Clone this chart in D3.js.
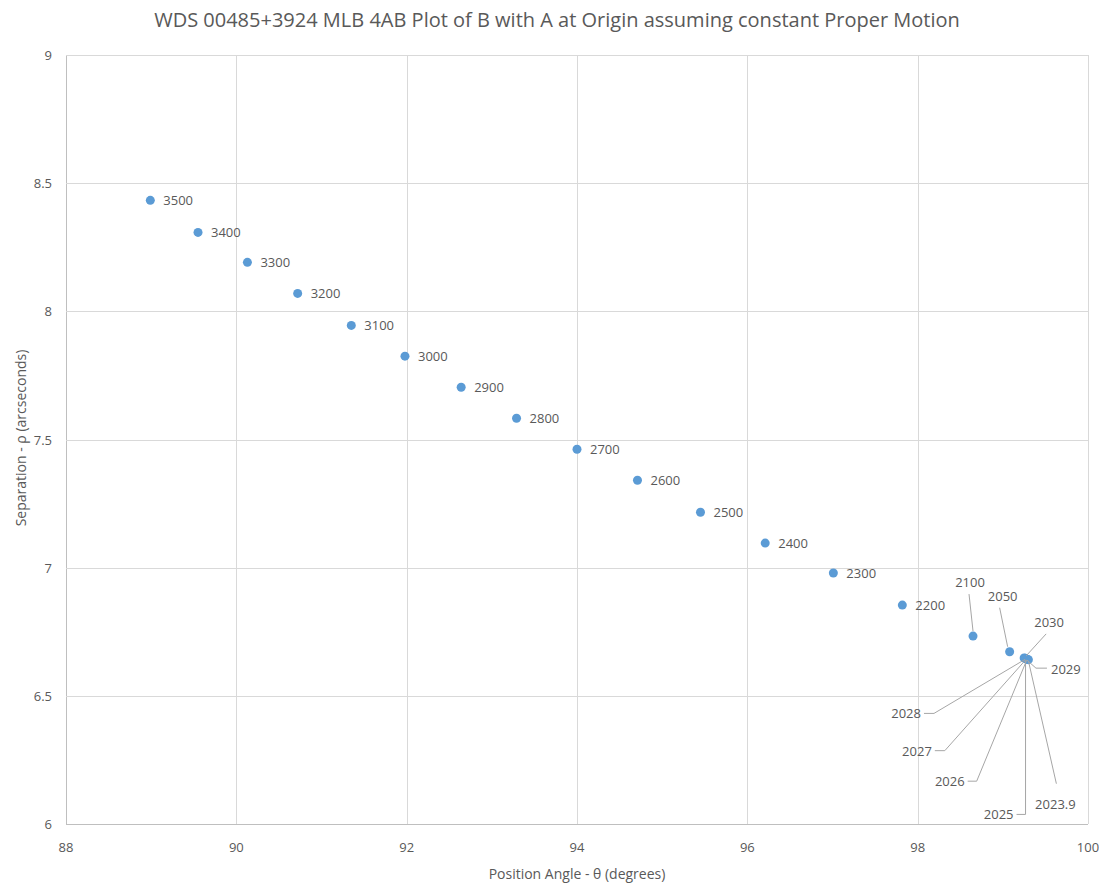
<!DOCTYPE html>
<html>
<head>
<meta charset="utf-8">
<script src="https://cdn.jsdelivr.net/npm/d3@7"></script>
<style>
  html, body { margin: 0; padding: 0; background: #ffffff; }
  svg { display: block; font-family: "Open Sans", "Noto Sans", sans-serif; }
</style>
</head>
<body>
<svg id="chart" width="1099" height="884"></svg>
<script>
// ---- data ----
const years = ["3500","3400","3300","3200","3100","3000","2900","2800","2700","2600","2500","2400","2300","2200","2100","2050","2030","2029","2028","2027","2026","2025","2023.9"];
const positionAngle = [88.99,89.55,90.13,90.72,91.35,91.98,92.64,93.29,94.00,94.71,95.45,96.21,97.01,97.82,98.65,99.08,99.25,99.26,99.26,99.27,99.28,99.29,99.30];
const separation    = [8.433,8.308,8.191,8.070,7.945,7.825,7.704,7.583,7.462,7.341,7.216,7.096,6.979,6.854,6.733,6.672,6.648,6.647,6.646,6.645,6.643,6.642,6.641];
const xTicks = [88,90,92,94,96,98,100];
const yTicks = [6,6.5,7,7.5,8,8.5,9];
const titleText = "WDS 00485+3924 MLB 4AB Plot of B with A at Origin assuming constant Proper Motion";
const xTitle = "Position Angle - \u03b8 (degrees)";
const yTitle = "Separation - \u03c1 (arcseconds)";

// ---- label placement (pixel offsets from the point; style only) ----
const labelPlacement = {
  "2100":   {tx:-3,  ty:-54, anchor:"middle", leader:[[-4,-42],[0,-5]]},
  "2050":   {tx:-7,  ty:-56, anchor:"middle", leader:[[-10,-44],[-2,-5]]},
  "2030":   {tx:25,  ty:-36, anchor:"middle", leader:[[22,-24],[2,-2]]},
  "2029":   {tx:26,  ty:11,  anchor:"start",  leader:[[22,10],[11,10],[2,2]]},
  "2028":   {tx:-104,ty:55,  anchor:"end",    leader:[[-101,55],[-91,55],[0,1]]},
  "2027":   {tx:-94, ty:92,  anchor:"end",    leader:[[-91,92],[-81,92],[0,1]]},
  "2026":   {tx:-62, ty:122, anchor:"end",    leader:[[-59,122],[-50,122],[0,1]]},
  "2025":   {tx:-14, ty:155, anchor:"end",    leader:[[-11,155],[-2,155],[-2,1]]},
  "2023.9": {tx:27,  ty:144, anchor:"middle", leader:[[28,124],[0,1]]}
};

// ---- layout ----
const svg = d3.select("#chart");
const margin = {left: 66, right: 11, top: 55, bottom: 60};
const W = 1099, H = 884;
const x = d3.scaleLinear().domain([88,100]).range([margin.left, W - margin.right]);
const y = d3.scaleLinear().domain([6,9]).range([H - margin.bottom, margin.top]);

const textCol = "#595959";

// gridlines
svg.append("g").selectAll("line.v").data(xTicks).join("line")
  .attr("x1", d => Math.round(x(d)) + 0.5).attr("x2", d => Math.round(x(d)) + 0.5)
  .attr("y1", y(9)).attr("y2", y(6))
  .attr("stroke", d => d === 88 ? "#bfbfbf" : "#d9d9d9").attr("stroke-width", 1);
svg.append("g").selectAll("line.h").data(yTicks).join("line")
  .attr("x1", x(88)).attr("x2", x(100))
  .attr("y1", d => Math.round(y(d)) + 0.5).attr("y2", d => Math.round(y(d)) + 0.5)
  .attr("stroke", d => d === 6 ? "#bfbfbf" : "#d9d9d9").attr("stroke-width", 1);

// tick labels
svg.append("g").selectAll("text").data(yTicks).join("text")
  .attr("x", x(88) - 14).attr("y", d => y(d))
  .attr("text-anchor", "end").attr("dominant-baseline", "central")
  .attr("font-size", 13).attr("fill", textCol)
  .text(d => d3.format("")(d));
svg.append("g").selectAll("text").data(xTicks).join("text")
  .attr("x", d => x(d)).attr("y", y(6) + 23)
  .attr("text-anchor", "middle").attr("dominant-baseline", "central")
  .attr("font-size", 13).attr("fill", textCol)
  .text(d => d);

// titles
svg.append("text").attr("x", 557).attr("y", 19)
  .attr("text-anchor", "middle").attr("dominant-baseline", "central")
  .attr("font-size", 20).attr("fill", textCol).text(titleText);
svg.append("text").attr("x", 577).attr("y", 873)
  .attr("text-anchor", "middle").attr("dominant-baseline", "central")
  .attr("font-size", 14).attr("fill", textCol).text(xTitle);
svg.append("text").attr("transform", "translate(20,438) rotate(-90)")
  .attr("text-anchor", "middle").attr("dominant-baseline", "central")
  .attr("font-size", 14).attr("fill", textCol).text(yTitle);

const pts = years.map((yr, i) => ({yr, px: x(positionAngle[i]), py: y(separation[i])}));

// points
svg.append("g").selectAll("circle").data(pts).join("circle")
  .attr("cx", d => d.px).attr("cy", d => d.py).attr("r", 4.5)
  .attr("fill", "#5b9bd5");

// leader lines (drawn over the points, as in the reference)
const lg = svg.append("g");
pts.forEach(p => {
  const pl = labelPlacement[p.yr];
  if (pl && pl.leader) {
    lg.append("path")
      .attr("d", d3.line()(pl.leader.map(([dx, dy]) => [p.px + dx, p.py + dy])))
      .attr("fill", "none").attr("stroke", "#a6a6a6").attr("stroke-width", 1);
  }
});

// labels
svg.append("g").selectAll("text").data(pts).join("text")
  .attr("x", d => labelPlacement[d.yr] ? d.px + labelPlacement[d.yr].tx : d.px + 13)
  .attr("y", d => labelPlacement[d.yr] ? d.py + labelPlacement[d.yr].ty : d.py)
  .attr("text-anchor", d => labelPlacement[d.yr] ? labelPlacement[d.yr].anchor : "start")
  .attr("dominant-baseline", "central")
  .attr("font-size", 13).attr("fill", textCol)
  .text(d => d.yr);
</script>
</body>
</html>
